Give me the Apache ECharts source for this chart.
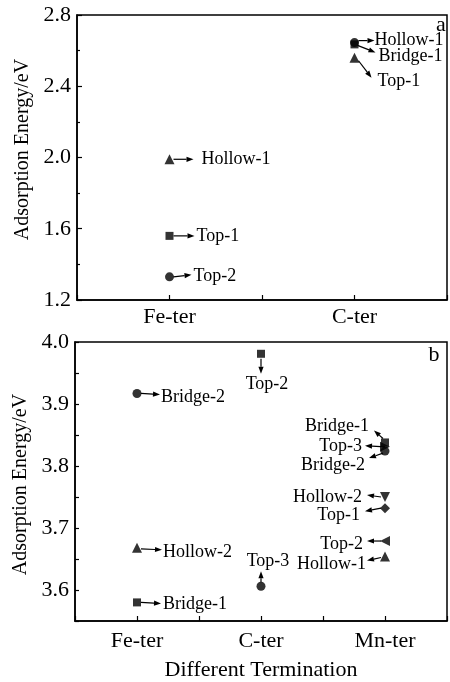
<!DOCTYPE html>
<html><head><meta charset="utf-8">
<script src="https://cdn.jsdelivr.net/npm/echarts@6/dist/echarts.min.js"></script>
<style>html,body{margin:0;padding:0;background:#fff}#c{width:450px;height:682px}</style>
</head><body><div id="c"></div>
<script>
// ---------- data ----------
const termsA = ['Fe-ter', 'C-ter'];
const termsB = ['Fe-ter', 'C-ter', 'Mn-ter'];

// panel a
const sitesA  = ['Hollow-1', 'Top-1', 'Top-2', 'Hollow-1', 'Bridge-1', 'Top-1'];
const termIdxA = [0, 0, 0, 1, 1, 1];
const energyA = [1.99, 1.56, 1.33, 2.645, 2.635, 2.56];

// panel b
const sitesB  = ['Bridge-2', 'Hollow-2', 'Bridge-1', 'Top-2', 'Top-3',
                 'Bridge-1', 'Top-3', 'Bridge-2', 'Hollow-2', 'Top-1', 'Top-2', 'Hollow-1'];
const termIdxB = [0, 0, 0, 1, 1, 2, 2, 2, 2, 2, 2, 2];
const energyB = [3.917, 3.668, 3.580, 3.981, 3.606,
                 3.838, 3.831, 3.824, 3.750, 3.732, 3.679, 3.654];

const yTicksA = [1.2, 1.6, 2.0, 2.4, 2.8];
const yTicksB = [3.6, 3.7, 3.8, 3.9, 4.0];

// ---------- styles / layout ----------
const markerA = ['up', 'rect', 'circle', 'circle', 'rect', 'up'];
const markerB = ['circle', 'up', 'rect', 'rect', 'circle',
                 'rect', 'right', 'circle', 'down', 'diamond', 'left', 'up'];
// [arrowStart dx,dy, arrowEnd dx,dy, label dx,dy, align]
const annA = [
  [4, 0, 24, 0, 32, 0, 'left'],
  [4, 0, 25, 0, 27, 0, 'left'],
  [4, 0, 22, -2, 24, -1, 'left'],
  [4, -2, 20, -2, 20, -2, 'left'],
  [3, 1, 21, 8, 24, 12, 'left'],
  [4, 3, 17, 20, 23, 24, 'left']
];
const annB = [
  [4, 0, 23, 1, 24, 4, 'left'],
  [4, 1, 25, 2, 26, 4, 'left'],
  [4, 0, 24, 1, 26, 2, 'left'],
  [0, 5, 0, 20, 6, 30, 'center'],
  [0, -4, 0, -15, 7, -25, 'center'],
  [-2, -4, -11, -12, -16, -16, 'right'],
  [0, 0, -20, -1, -23, -1, 'right'],
  [-2, 2, -16, 7, -20, 14, 'right'],
  [-4, 0, -18, -2, -23, 0, 'right'],
  [-4, 0, -20, 3, -25, 7, 'right'],
  [-4, 0, -18, 0, -22, 3, 'right'],
  [-4, 1, -18, 4, -19, 8, 'right']
];

const FONT = 'Liberation Serif';
function sym(m) {
  switch (m) {
    case 'rect': return { symbol: 'rect', symbolSize: 8, symbolRotate: 0 };
    case 'circle': return { symbol: 'circle', symbolSize: 9, symbolRotate: 0 };
    case 'up': return { symbol: 'triangle', symbolSize: 10, symbolRotate: 0 };
    case 'down': return { symbol: 'triangle', symbolSize: 10, symbolRotate: 180 };
    case 'left': return { symbol: 'triangle', symbolSize: 10, symbolRotate: 90 };
    case 'right': return { symbol: 'triangle', symbolSize: 10, symbolRotate: -90 };
    case 'diamond': return { symbol: 'diamond', symbolSize: 10, symbolRotate: 0 };
  }
}
function pts(idx, en, mk) {
  return en.map((v, i) => Object.assign({ value: [idx[i], v] }, sym(mk[i])));
}
const axisTxt = { color: '#000', fontFamily: FONT, fontSize: 22 };
const lineSty = { color: '#000', width: 1.5 };
const tickSty = { color: '#000', width: 1.2 };

function xAxis(gi, cats, margin, name) {
  return {
    type: 'value', gridIndex: gi, min: -0.5, max: cats.length - 0.5, interval: 0.5,
    axisLine: { show: true, onZero: false, lineStyle: lineSty },
    axisTick: { show: true, inside: true, length: 5, lineStyle: tickSty },
    splitLine: { show: false },
    axisLabel: Object.assign({ margin: margin, showMinLabel: true, showMaxLabel: true,
      formatter: v => (Math.abs(v - Math.round(v)) < 1e-6 && cats[Math.round(v)]) ? cats[Math.round(v)] : '' }, axisTxt),
    name: name || '', nameLocation: 'middle', nameGap: 38,
    nameTextStyle: { color: '#000', fontFamily: FONT, fontSize: 22 }
  };
}
function yName(pad) {
  return { name: 'Adsorption Energy/eV', nameLocation: 'middle', nameGap: 44,
    nameTextStyle: { color: '#000', fontFamily: FONT, fontSize: 20, padding: pad } };
}

const chart = echarts.init(document.getElementById('c'), null, { renderer: 'canvas' });
chart.setOption({
  animation: false,
  backgroundColor: '#fff',
  grid: [
    { left: 77, top: 15, right: -3, bottom: 382, show: true, borderColor: '#000', borderWidth: 1.5 },
    { left: 75, top: 342, right: 3, bottom: 58, show: true, borderColor: '#000', borderWidth: 1.5 }
  ],
  xAxis: [xAxis(0, termsA, 6), xAxis(1, termsB, 9, 'Different Termination')],
  yAxis: [
    Object.assign({
      type: 'value', gridIndex: 0, min: yTicksA[0], max: yTicksA[yTicksA.length - 1], interval: 0.4,
      axisLine: { show: true, onZero: false, lineStyle: lineSty },
      axisTick: { show: true, inside: true, length: 5, lineStyle: tickSty },
      minorTick: { show: true, splitNumber: 2, length: 3, lineStyle: tickSty },
      splitLine: { show: false }, minorSplitLine: { show: false },
      axisLabel: Object.assign({ margin: 6, formatter: v => v.toFixed(1) }, axisTxt)
    }, yName([0, 0, 0, 16])),
    Object.assign({
      type: 'value', gridIndex: 1, min: 3.55, max: yTicksB[yTicksB.length - 1], interval: 0.05,
      axisLine: { show: true, onZero: false, lineStyle: lineSty },
      axisTick: { show: true, inside: true, length: 4, lineStyle: tickSty },
      splitLine: { show: false },
      axisLabel: Object.assign({ margin: 6,
        formatter: v => yTicksB.some(t => Math.abs(t - v) < 1e-6) ? v.toFixed(1) : '' }, axisTxt)
    }, yName([0, 6, 0, 0]))
  ],
  series: [
    { type: 'scatter', xAxisIndex: 0, yAxisIndex: 0, itemStyle: { color: '#000' },
      data: pts(termIdxA, energyA, markerA) },
    { type: 'scatter', xAxisIndex: 1, yAxisIndex: 1, itemStyle: { color: '#000' },
      data: pts(termIdxB, energyB, markerB) }
  ]
});

function arrow(x1, y1, x2, y2) {
  const dx = x2 - x1, dy = y2 - y1, L = Math.hypot(dx, dy) || 1;
  const ux = dx / L, uy = dy / L, hl = 7, hw = 2.6;
  const bx = x2 - ux * hl, by = y2 - uy * hl;
  return [
    { type: 'line', silent: true, shape: { x1, y1, x2: bx, y2: by }, style: { stroke: '#000', lineWidth: 1.2 } },
    { type: 'polygon', silent: true, shape: { points: [[x2, y2], [bx - uy * hw, by + ux * hw], [bx + uy * hw, by - ux * hw]] },
      style: { fill: '#000' } }
  ];
}
const g = [];
function annotate(gi, idx, en, sites, ann) {
  en.forEach((v, i) => {
    const p = chart.convertToPixel({ gridIndex: gi }, [idx[i], v]);
    const a = ann[i];
    g.push(...arrow(p[0] + a[0], p[1] + a[1], p[0] + a[2], p[1] + a[3]));
    g.push({ type: 'text', silent: true, x: p[0] + a[4], y: p[1] + a[5],
      style: { text: sites[i], fill: '#000', font: '18px "' + FONT + '"', align: a[6], verticalAlign: 'middle' } });
  });
}
annotate(0, termIdxA, energyA, sitesA, annA);
annotate(1, termIdxB, energyB, sitesB, annB);
g.push({ type: 'text', x: 441, y: 25, style: { text: 'a', fill: '#000', font: '22px "' + FONT + '"', align: 'center', verticalAlign: 'middle' } });
g.push({ type: 'text', x: 434, y: 355, style: { text: 'b', fill: '#000', font: '22px "' + FONT + '"', align: 'center', verticalAlign: 'middle' } });
chart.setOption({ graphic: g });
</script>
</body></html>
